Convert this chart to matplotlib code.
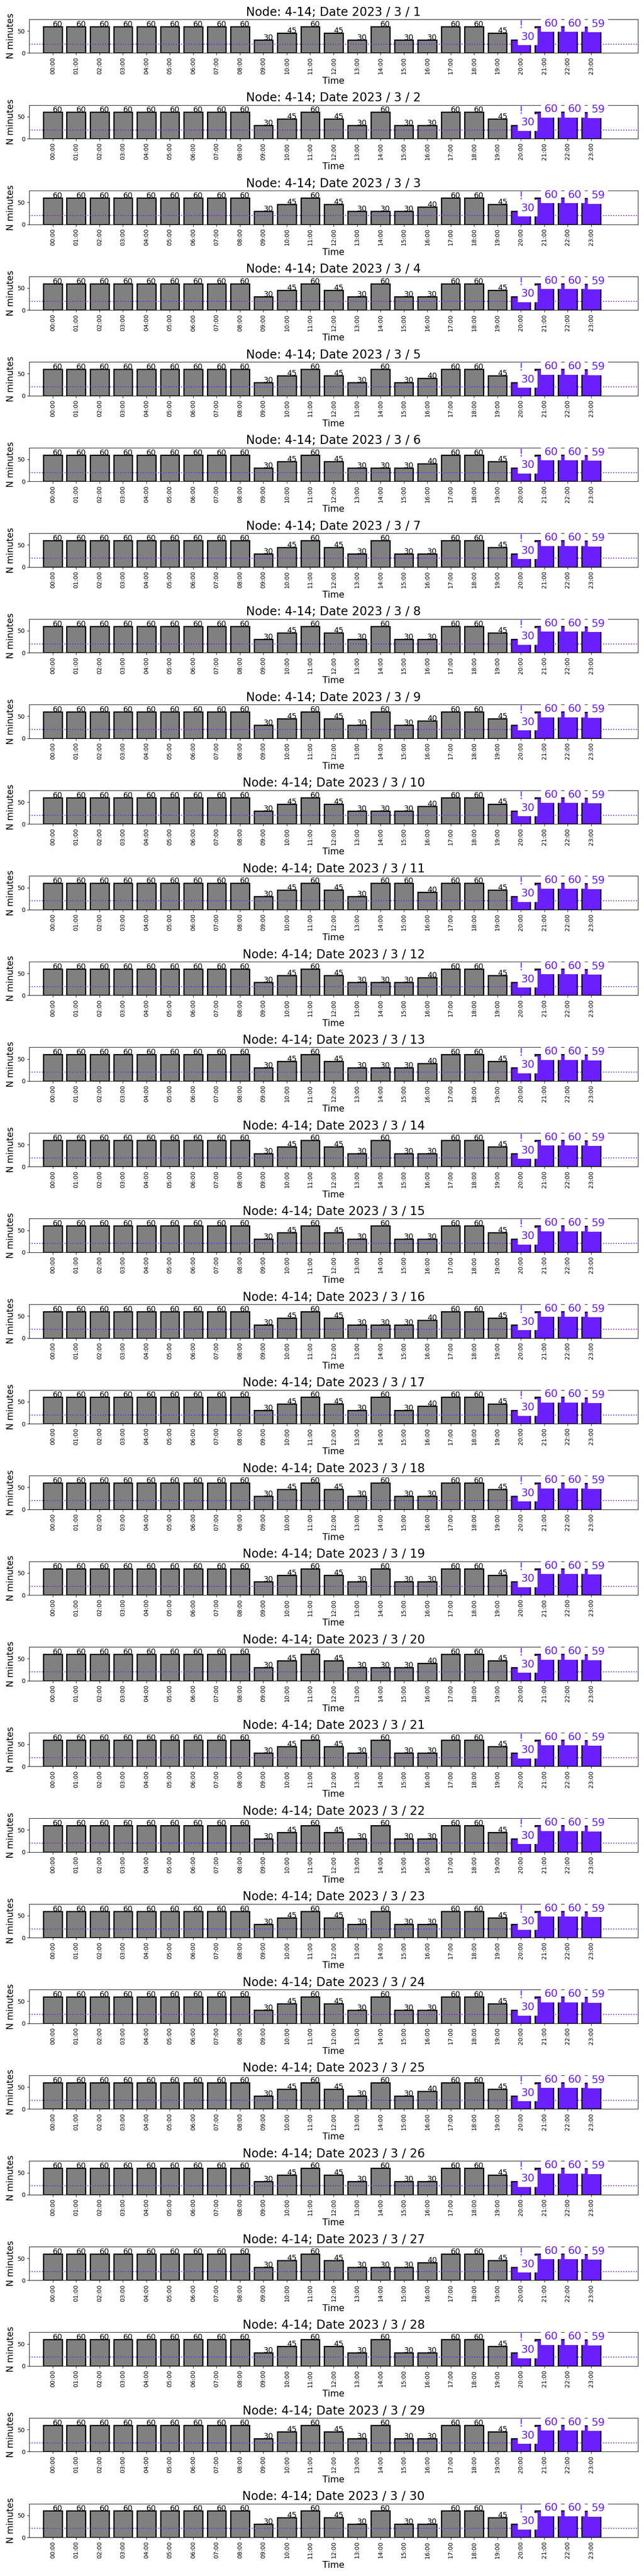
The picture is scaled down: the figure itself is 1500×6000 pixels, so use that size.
import matplotlib
matplotlib.use("Agg")
import matplotlib.pyplot as plt

# ---------------- data ----------------
node = "4-14"
year, month = 2023, 3
days = list(range(1, 31))
hour_labels = [f"{h:02d}:00" for h in range(24)]

# measured minutes, hours 00:00 - 11:00 (same on every day)
minutes_00_11 = [60, 60, 60, 60, 60, 60, 60, 60, 60, 30, 45, 60]

# measured minutes, hours 12:00 - 19:00, one row per day
minutes_12_19 = [
    [45, 30, 60, 30, 30, 60, 60, 45],  # 1
    [45, 30, 60, 30, 30, 60, 60, 45],  # 2
    [45, 30, 30, 30, 40, 60, 60, 45],  # 3
    [45, 30, 60, 30, 30, 60, 60, 45],  # 4
    [45, 30, 60, 30, 40, 60, 60, 45],  # 5
    [45, 30, 30, 30, 40, 60, 60, 45],  # 6
    [45, 30, 60, 30, 30, 60, 60, 45],  # 7
    [45, 30, 60, 30, 30, 60, 60, 45],  # 8
    [45, 30, 60, 30, 40, 60, 60, 45],  # 9
    [45, 30, 30, 30, 40, 60, 60, 45],  # 10
    [45, 30, 60, 60, 40, 60, 60, 45],  # 11
    [45, 30, 30, 30, 40, 60, 60, 45],  # 12
    [45, 30, 30, 30, 40, 60, 60, 45],  # 13
    [45, 30, 60, 30, 30, 60, 60, 45],  # 14
    [45, 30, 60, 30, 30, 60, 60, 45],  # 15
    [45, 30, 30, 30, 40, 60, 60, 45],  # 16
    [45, 30, 60, 30, 40, 60, 60, 45],  # 17
    [45, 30, 60, 30, 30, 60, 60, 45],  # 18
    [45, 30, 60, 30, 30, 60, 60, 45],  # 19
    [45, 30, 30, 30, 40, 60, 60, 45],  # 20
    [45, 30, 60, 30, 30, 60, 60, 45],  # 21
    [45, 30, 60, 30, 30, 60, 60, 45],  # 22
    [45, 30, 60, 30, 30, 60, 60, 45],  # 23
    [45, 30, 60, 30, 30, 60, 60, 45],  # 24
    [45, 30, 60, 30, 40, 60, 60, 45],  # 25
    [45, 30, 60, 30, 30, 60, 60, 45],  # 26
    [45, 30, 30, 30, 40, 60, 60, 45],  # 27
    [45, 30, 60, 30, 30, 60, 60, 45],  # 28
    [45, 30, 60, 30, 30, 60, 60, 45],  # 29
    [45, 30, 60, 30, 30, 60, 60, 45],  # 30
]

# forecast minutes, hours 20:00 - 23:00 (highlighted)
forecast_20_23 = [30, 60, 60, 59]
forecast_start_hour = 20
threshold = 20

# ---------------- style ----------------
purple = "#6a1fff"
gray = "#808080"

fig, axes = plt.subplots(len(days), 1, figsize=(15, 60), dpi=100)
fig.subplots_adjust(left=0.0455, right=0.9905, top=0.9925, bottom=0.015, hspace=1.542)

x = list(range(24))
for ax, day, mid in zip(axes, days, minutes_12_19):
    values = minutes_00_11 + mid + forecast_20_23
    colors = [purple if h >= forecast_start_hour else gray for h in x]
    ax.bar(x, values, width=0.8, color=colors, edgecolor="black", linewidth=2, zorder=2)
    ax.axhline(threshold, color=purple, linestyle=":", linewidth=1.6, zorder=2.6)
    for h, v in zip(x, values):
        if h >= forecast_start_hour:
            ax.text(h, v, str(v), fontsize=18, color=purple, zorder=3.2,
                    bbox=dict(facecolor="white", edgecolor="none",
                              boxstyle="square,pad=0.3"))
        else:
            ax.text(h, v, str(v), fontsize=13, color="black", zorder=3)
    ax.text(forecast_start_hour, forecast_20_23[0] + 27, "!", ha="center",
            fontsize=18, color=purple, zorder=3.1)
    ax.set_xlim(-1, 25)
    ax.set_ylim(0, 76.5)
    ax.set_yticks([0, 50])
    ax.set_xticks(x)
    ax.set_xticklabels(hour_labels, rotation=90, fontsize=10)
    ax.tick_params(axis="y", labelsize=10)
    ax.set_title(f"Node: {node}; Date {year} / {month} / {day}", fontsize=20)
    ax.set_xlabel("Time", fontsize=15)
    ax.set_ylabel("N minutes", fontsize=15)

fig.savefig("out.png", dpi=100)
